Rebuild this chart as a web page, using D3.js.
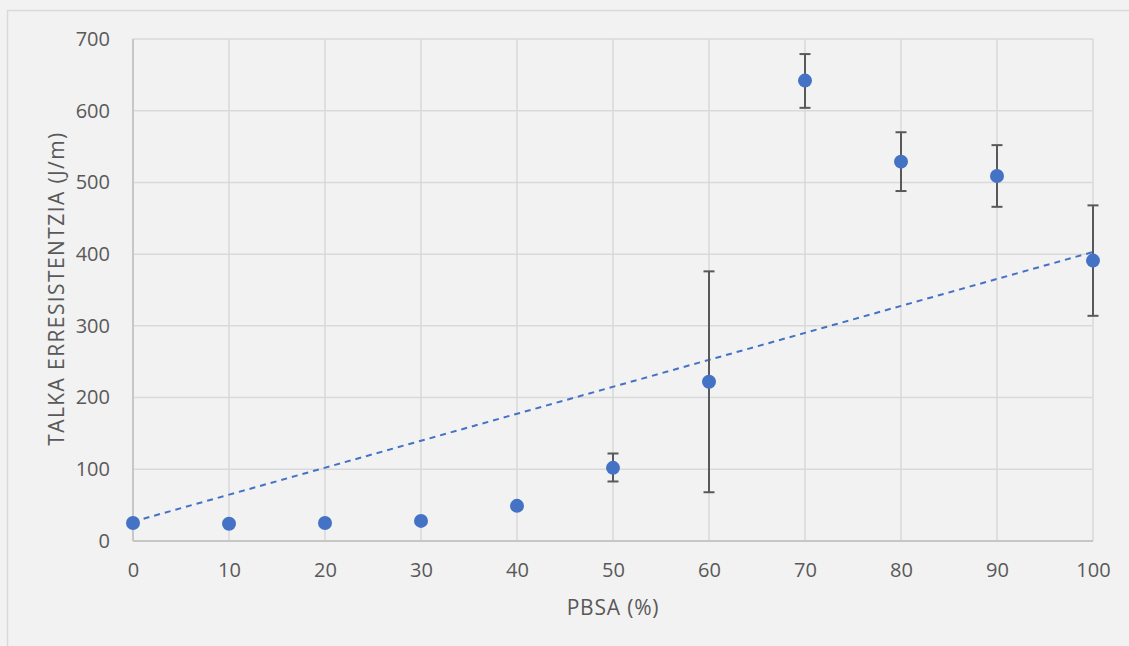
<!DOCTYPE html>
<html>
<head>
<meta charset="utf-8">
<script src="https://cdn.jsdelivr.net/npm/d3@7"></script>
<style>
  html, body { margin: 0; padding: 0; background: #f2f2f2; }
  svg { display: block; }
  text { font-family: "Open Sans", sans-serif; fill: #595959; }
</style>
</head>
<body>
<div id="chart"></div>
<script>
// PBSA content (%)
const pbsa = [0, 10, 20, 30, 40, 50, 60, 70, 80, 90, 100];
// impact resistance (J/m)
const resistance = [25, 24, 25, 28, 49, 102, 222, 642, 529, 509, 391];
const errUpper = [null, null, null, null, null, 122, 376, 679, 570, 552, 468];
const errLower = [null, null, null, null, null, 83, 68, 604, 488, 466, 314];
// linear trendline values at x = 0 and x = 100
const trendX = [0, 100];
const trendY = [27, 403];

const xTicks = [0, 10, 20, 30, 40, 50, 60, 70, 80, 90, 100];
const yTicks = [0, 100, 200, 300, 400, 500, 600, 700];

const width = 1129, height = 646;
const margin = { left: 133, right: 36, top: 39, bottom: 105 };
const fontFamily = '"Open Sans", sans-serif';

let svg = d3.select("#chart")
    .append("svg")
    .attr("width", width)
    .attr("height", height);

// chart area frame (only left/top edges fall inside the picture)
svg.append("rect")
    .attr("x", 7.5).attr("y", 10.5)
    .attr("width", 1200).attr("height", 700)
    .attr("fill", "#f2f2f2")
    .attr("stroke", "#d9d9d9")
    .attr("stroke-width", 1.5);

let x = d3.scaleLinear().domain([0, 100]).range([margin.left, width - margin.right]);
let y = d3.scaleLinear().domain([0, 700]).range([height - margin.bottom, margin.top]);

// gridlines
let grid = svg.append("g").attr("class", "grids");
grid.selectAll(".hgrid").data(yTicks).enter().append("line")
    .attr("x1", x(0)).attr("x2", x(100))
    .attr("y1", d => y(d)).attr("y2", d => y(d))
    .attr("stroke", "#d9d9d9").attr("stroke-width", 1.5);
grid.selectAll(".vgrid").data(xTicks).enter().append("line")
    .attr("y1", y(0)).attr("y2", y(700))
    .attr("x1", d => x(d)).attr("x2", d => x(d))
    .attr("stroke", "#d9d9d9").attr("stroke-width", 1.5);

// axes lines
svg.append("line")
    .attr("x1", x(0)).attr("x2", x(100)).attr("y1", y(0)).attr("y2", y(0))
    .attr("stroke", "#bfbfbf").attr("stroke-width", 1.5);
svg.append("line")
    .attr("x1", x(0)).attr("x2", x(0)).attr("y1", y(0)).attr("y2", y(700))
    .attr("stroke", "#bfbfbf").attr("stroke-width", 1.5);

// tick labels via d3 axes
let xAxis = svg.append("g")
    .attr("transform", `translate(0, ${y(0)})`)
    .call(d3.axisBottom(x).tickValues(xTicks).tickSize(0).tickPadding(22));
let yAxis = svg.append("g")
    .attr("transform", `translate(${x(0)}, 0)`)
    .call(d3.axisLeft(y).tickValues(yTicks).tickSize(0).tickPadding(23));
[xAxis, yAxis].forEach(a => {
    a.select(".domain").remove();
    a.selectAll("text").attr("font-size", 20).style("fill", "#595959")
        .attr("font-family", fontFamily);
});

// axis titles
svg.append("text")
    .attr("x", x(50)).attr("y", 615)
    .attr("text-anchor", "middle")
    .attr("font-size", 21)
    .attr("letter-spacing", 0.8)
    .text("PBSA (%)");
svg.append("text")
    .attr("transform", `translate(64, ${y(352)}) rotate(-90)`)
    .attr("text-anchor", "middle")
    .attr("font-size", 21)
    .attr("letter-spacing", 1.4)
    .text("TALKA ERRESISTENTZIA (J/m)");

// trendline
svg.append("line")
    .attr("x1", x(trendX[0])).attr("y1", y(trendY[0]))
    .attr("x2", x(trendX[1])).attr("y2", y(trendY[1]))
    .attr("stroke", "#4472c4").attr("stroke-width", 2)
    .attr("stroke-dasharray", "6,5");

// error bars
let errData = pbsa.map((p, i) => ({ p, hi: errUpper[i], lo: errLower[i] }))
    .filter(d => d.hi != null);
let errs = svg.append("g").attr("class", "errors");
errs.selectAll(".err").data(errData).enter().append("line")
    .attr("x1", d => x(d.p)).attr("x2", d => x(d.p))
    .attr("y1", d => y(d.hi)).attr("y2", d => y(d.lo))
    .attr("stroke", "#595959").attr("stroke-width", 2);
errs.selectAll(".capHi").data(errData).enter().append("line")
    .attr("x1", d => x(d.p) - 5.5).attr("x2", d => x(d.p) + 5.5)
    .attr("y1", d => y(d.hi)).attr("y2", d => y(d.hi))
    .attr("stroke", "#595959").attr("stroke-width", 2);
errs.selectAll(".capLo").data(errData).enter().append("line")
    .attr("x1", d => x(d.p) - 5.5).attr("x2", d => x(d.p) + 5.5)
    .attr("y1", d => y(d.lo)).attr("y2", d => y(d.lo))
    .attr("stroke", "#595959").attr("stroke-width", 2);

// markers
svg.append("g").attr("class", "points")
    .selectAll("circle").data(pbsa).enter().append("circle")
    .attr("cx", d => x(d))
    .attr("cy", (d, i) => y(resistance[i]))
    .attr("r", 7)
    .attr("fill", "#4472c4");
</script>
</body>
</html>
